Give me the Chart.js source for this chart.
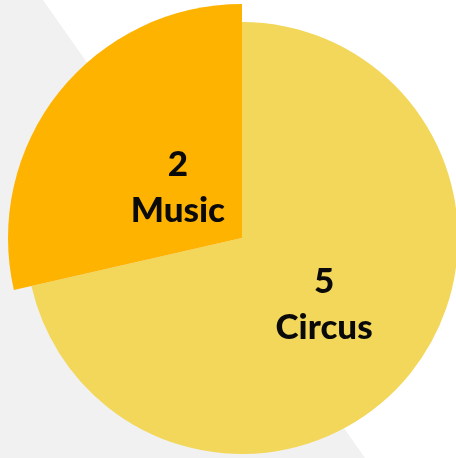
<!DOCTYPE html>
<html>
<head>
<meta charset="utf-8">
<script src="https://cdn.jsdelivr.net/npm/chart.js@4"></script>
<style>
  html, body { margin: 0; padding: 0; background: #fff; overflow: hidden; }
  #wrap { position: relative; width: 456px; height: 458px; }
  #shade {
    position: absolute; left: 0; top: 0; width: 456px; height: 458px;
    background: #f1f1f1;
    clip-path: polygon(0 0, 43px 0, 365px 458px, 0 458px);
  }
  canvas { position: absolute; left: 0; top: 0; }
</style>
</head>
<body>
<div id="wrap">
  <div id="shade"></div>
  <canvas id="pie" width="456" height="458"></canvas>
</div>
<script>
// pie data
const categories = ['Circus', 'Music'];
const counts = [5, 2];
const colours = ['#f2d75a', '#feb300'];

// Music slice sticks out a bit further than the rest
const bigRadius = { 1: 234 };
const labelDist = [105, 82];

const growSlice = {
  id: 'growSlice',
  afterDatasetUpdate(chart, args) {
    args.meta.data.forEach((arc, i) => {
      if (bigRadius[i]) arc.outerRadius = bigRadius[i];
    });
  }
};

const sliceLabels = {
  id: 'sliceLabels',
  afterDatasetsDraw(chart) {
    const ctx = chart.ctx;
    const meta = chart.getDatasetMeta(0);
    ctx.save();
    ctx.fillStyle = '#0a0a0a';
    ctx.textAlign = 'center';
    ctx.textBaseline = 'middle';
    ctx.font = '900 35px Lato';
    meta.data.forEach((arc, i) => {
      const mid = (arc.startAngle + arc.endAngle) / 2;
      const x = arc.x + Math.cos(mid) * labelDist[i];
      const y = arc.y + Math.sin(mid) * labelDist[i];
      ctx.fillText(String(counts[i]), x, y - 22);
      ctx.fillText(categories[i], x, y + 24);
    });
    ctx.restore();
  }
};

new Chart(document.getElementById('pie'), {
  type: 'pie',
  data: {
    labels: categories,
    datasets: [{
      data: counts,
      backgroundColor: colours,
      borderWidth: 0,
      radius: 216
    }]
  },
  options: {
    responsive: false,
    animation: false,
    layout: { padding: { left: 28, top: 18, right: 0, bottom: 0 } },
    plugins: {
      legend: { display: false },
      tooltip: { enabled: false }
    }
  },
  plugins: [growSlice, sliceLabels]
});
</script>
</body>
</html>
